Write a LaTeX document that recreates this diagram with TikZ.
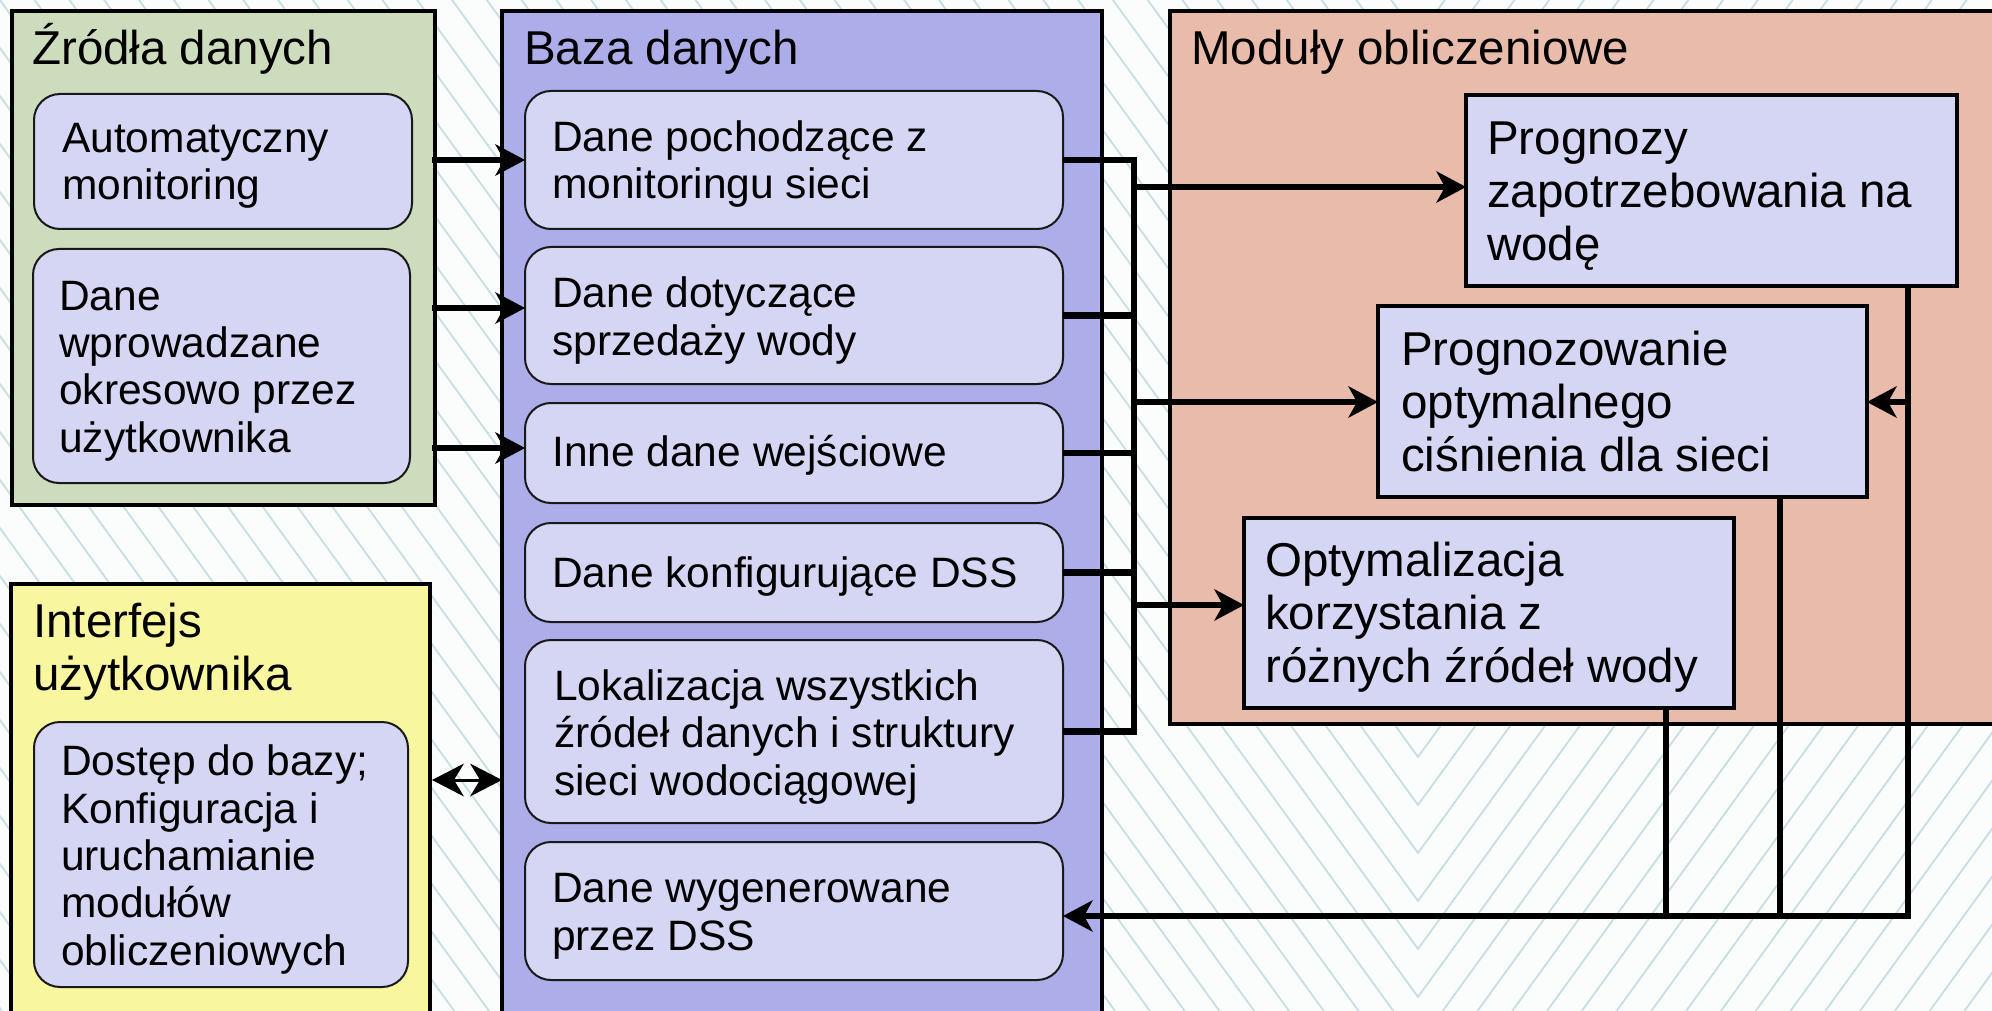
\documentclass[tikz,border=0pt]{standalone}
\usepackage{fontspec}
\setmainfont{Liberation Sans}
\usetikzlibrary{arrows.meta,calc}

\definecolor{paper}{HTML}{FBFDFD}
\definecolor{hatchc}{HTML}{C9DEE3}
\definecolor{greenp}{HTML}{CEDCBE}
\definecolor{bluep}{HTML}{ADADEA}
\definecolor{pinkp}{HTML}{E9BBAA}
\definecolor{yellowp}{HTML}{F8F7A0}
\definecolor{lav}{HTML}{D5D6F3}

\begin{document}
\begin{tikzpicture}[x=1pt, y=-1pt,
  panel/.style={draw=black, line width=3.5pt, anchor=north west, inner sep=0pt, outer sep=0pt},
  inbox/.style={draw=black!90, line width=2pt, fill=lav, rounded corners=26pt,
                anchor=north west, inner sep=0pt, outer sep=0pt},
  modbox/.style={draw=black, line width=4pt, fill=lav, anchor=north west,
                 inner sep=0pt, outer sep=0pt},
  % text nodes are placed by the baseline of their last line
  body/.style={anchor=base west, inner sep=0pt, align=left,
               font=\fontsize{42.5}{47.3}\selectfont},
  head/.style={anchor=base west, inner sep=0pt, align=left,
               font=\fontsize{47.5}{53}\selectfont},
  conn/.style={line width=6.5pt, draw=black},
  arr/.style={conn, -{Stealth[length=30pt, width=32pt, inset=9pt, line width=0pt]}},
  dblarr/.style={line width=3pt, draw=black,
                 {Stealth[length=32pt, width=33pt, inset=10pt, line width=0pt]}-{Stealth[length=32pt, width=33pt, inset=10pt, line width=0pt]}},
  hatch/.style={draw=hatchc, line width=1.8pt},
]
\clip (0,0) rectangle (1992,1011);

% hatched chevron background
\fill[paper] (0,0) rectangle (1992,1011);
\foreach \k in {-1,...,62} {
  \draw[hatch] ({1418-2300}, {37+48*\k-1.38*2300}) -- (1418, {37+48*\k})
               -- ({1418+2300}, {37+48*\k-1.38*2300});
}

% group panels
\node[panel, fill=greenp,  minimum width=423, minimum height=494]  (src) at (12,11) {};
\node[panel, fill=bluep,   minimum width=600, minimum height=1040] (db)  at (502,11) {};
\node[panel, fill=pinkp,   minimum width=850, minimum height=713]  (mod) at (1170,11) {};
\node[panel, fill=yellowp, minimum width=419, minimum height=460]  (ui)  at (11,584) {};

% data sources
\node[inbox, minimum width=378, minimum height=135] (src1) at (34,94) {};
\node[inbox, minimum width=377, minimum height=234] (src2) at (33,249) {};

% database items
\node[inbox, minimum width=538, minimum height=138] (db1) at (525,91) {};
\node[inbox, minimum width=538, minimum height=137] (db2) at (525,247) {};
\node[inbox, minimum width=538, minimum height=100] (db3) at (525,403) {};
\node[inbox, minimum width=538, minimum height=99]  (db4) at (525,523) {};
\node[inbox, minimum width=538, minimum height=183] (db5) at (525,640) {};
\node[inbox, minimum width=538, minimum height=138] (db6) at (525,842) {};

% user interface
\node[inbox, minimum width=374, minimum height=265] (ui1) at (34,722) {};

% computation modules
\node[modbox, minimum width=491, minimum height=191] (m1) at (1466,95) {};
\node[modbox, minimum width=489, minimum height=191] (m2) at (1378,306) {};
\node[modbox, minimum width=490, minimum height=190] (m3) at (1244,518) {};

% titles
\node[head] (tsrc) at (32,65)   {Źródła danych};
\node[head] (tdb)  at (524,65)  {Baza danych};
\node[head] (tmod) at (1191,65) {Moduły obliczeniowe};
\node[head] (tui)  at (33,690)  {Interfejs\\użytkownika};

% box texts
\node[body] (tsrc1) at (62,200)  {Automatyczny\\monitoring};
\node[body] (tsrc2) at (59,452)  {Dane\\wprowadzane\\okresowo przez\\użytkownika};
\node[body] (tdb1)  at (552,199) {Dane pochodzące z\\monitoringu sieci};
\node[body] (tdb2)  at (552,355) {Dane dotyczące\\sprzedaży wody};
\node[body] (tdb3)  at (552,466) {Inne dane wejściowe};
\node[body] (tdb4)  at (552,587) {Dane konfigurujące DSS};
\node[body] (tdb5)  at (554,795) {Lokalizacja wszystkich\\źródeł danych i struktury\\sieci wodociągowej};
\node[body] (tdb6)  at (552,950) {Dane wygenerowane\\przez DSS};
\node[body] (tui1)  at (61,965)  {Dostęp do bazy;\\Konfiguracja i\\uruchamianie\\modułów\\obliczeniowych};
\node[head] (tm1)   at (1487,260) {Prognozy\\zapotrzebowania na\\wodę};
\node[head] (tm2)   at (1401,471) {Prognozowanie\\optymalnego\\ciśnienia dla sieci};
\node[head] (tm3)   at (1265,682) {Optymalizacja\\korzystania z\\różnych źródeł wody};

% routing points
\coordinate (bus) at (1134,0);
\coordinate (fb)  at (1908,916);
\coordinate (x2)  at (1780,0);
\coordinate (x3)  at (1666,0);
\coordinate (in1) at (432,160);
\coordinate (in2) at (432,308);
\coordinate (in3) at (432,448);
\coordinate (o1)  at (1134,187);
\coordinate (o2)  at (1134,402);
\coordinate (o3)  at (1134,605);
\coordinate (dbl) at (432,780);

% sources -> database
\draw[arr] (in1) -- (db1.west |- in1);
\draw[arr] (in2) -- (db2.west |- in2);
\draw[arr] (in3) -- (db3.west |- in3);

% database bus
\draw[conn] (db1.east) -| (bus |- db5.east) -- (db5.east);
\foreach \b in {db2,db3,db4} \draw[conn] (\b.east) -- (bus |- \b.east);

% bus -> modules
\draw[arr] (o1) -- (m1.west |- o1);
\draw[arr] (o2) -- (m2.west |- o2);
\draw[arr] (o3) -- (m3.west |- o3);

% results back to the database
\draw[arr] (m1.south -| fb) |- (db6.east |- fb);
\draw[conn] (m2.south -| x2) -- (x2 |- fb);
\draw[conn] (m3.south -| x3) -- (x3 |- fb);
\draw[arr] (fb |- o2) -- (m2.east |- o2);

% interface <-> database
\draw[dblarr] (dbl) -- (db.west |- dbl);
\end{tikzpicture}
\end{document}
